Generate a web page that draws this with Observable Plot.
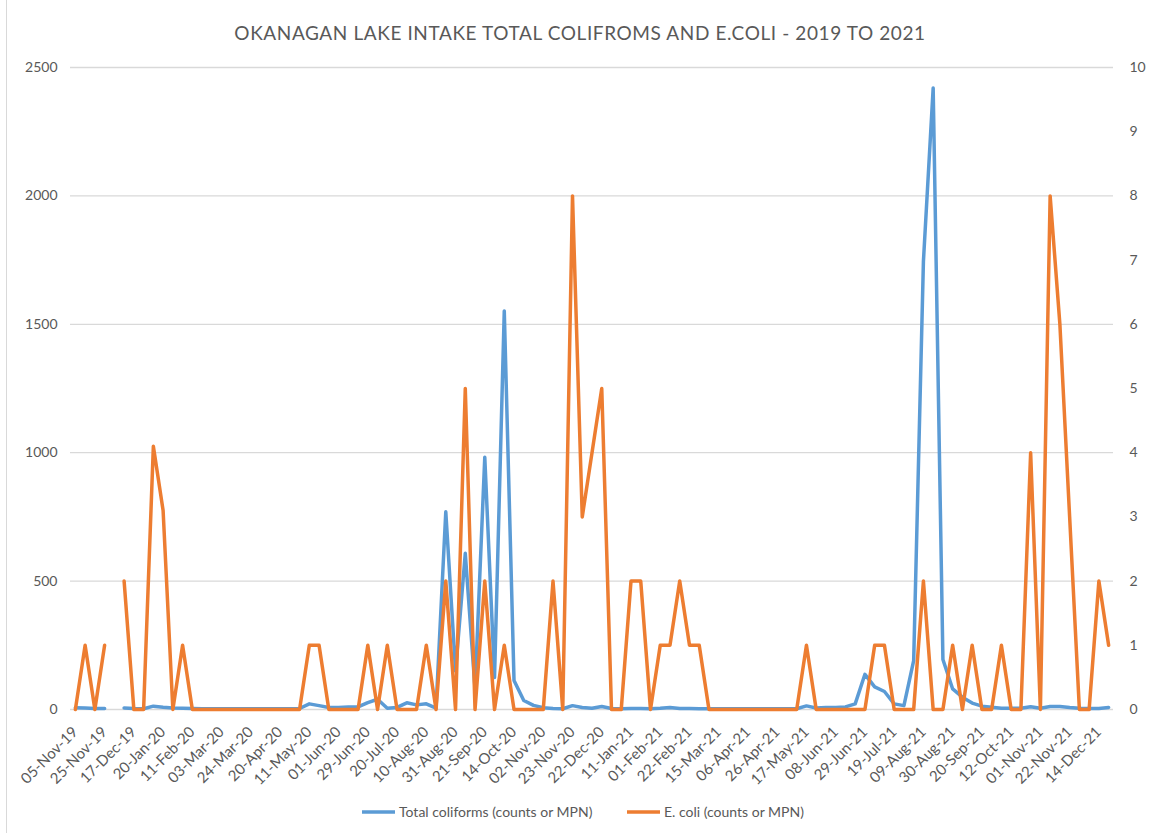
<!DOCTYPE html>
<html><head><meta charset="utf-8">
<script src="https://cdn.jsdelivr.net/npm/d3@7"></script>
<script src="https://cdn.jsdelivr.net/npm/@observablehq/plot@0.6"></script>
<style>
body{margin:0;background:#fff;}
#chart{position:relative;width:1151px;height:833px;}
</style></head><body><div id="chart"></div>
<script>
// Category tick labels (every third sample is labelled)
const tickLabels = ["05-Nov-19","25-Nov-19","17-Dec-19","20-Jan-20","11-Feb-20","03-Mar-20","24-Mar-20","20-Apr-20","11-May-20","01-Jun-20","29-Jun-20","20-Jul-20","10-Aug-20","31-Aug-20","21-Sep-20","14-Oct-20","02-Nov-20","23-Nov-20","22-Dec-20","11-Jan-21","01-Feb-21","22-Feb-21","15-Mar-21","06-Apr-21","26-Apr-21","17-May-21","08-Jun-21","29-Jun-21","19-Jul-21","09-Aug-21","30-Aug-21","20-Sep-21","12-Oct-21","01-Nov-21","22-Nov-21","14-Dec-21"];

// Total coliforms (left axis)
const coliforms = [
  7, 6, 4, 4, null, 6, 4, 3, 13, 9,
  6, 5, 4, 3, 3, 3, 3, 3, 3, 3,
  3, 3, 3, 4, 22, 15, 8, 8, 10, 10,
  27, 40, 5, 8, 26, 18, 22, 5, 770, 150,
  608, 80, 982, 125, 1552, 113, 35, 16, 7, 4,
  3, 15, 8, 5, 12, 4, 3, 4, 4, 3,
  5, 8, 4, 4, 3, 3, 3, 3, 3, 3,
  3, 3, 3, 3, 3, 14, 6, 8, 8, 10,
  22, 137, 88, 70, 22, 15, 190, 1745, 2420, 195,
  80, 48, 25, 13, 9, 5, 5, 5, 11, 5,
  12, 12, 8, 5, 4, 4, 8
];

// E. coli (right axis)
const ecoli = [
  0, 1, 0, 1, null, 2, 0, 0, 4.1, 3.1,
  0, 1, 0, 0, 0, 0, 0, 0, 0, 0,
  0, 0, 0, 0, 1, 1, 0, 0, 0, 0,
  1, 0, 1, 0, 0, 0, 1, 0, 2, 0,
  5, 0, 2, 0, 1, 0, 0, 0, 0, 2,
  0, 8, 3, 4, 5, 0, 0, 2, 2, 0,
  1, 1, 2, 1, 1, 0, 0, 0, 0, 0,
  0, 0, 0, 0, 0, 1, 0, 0, 0, 0,
  0, 0, 1, 1, 0, 0, 0, 2, 0, 0,
  1, 0, 1, 0, 0, 1, 0, 0, 4, 0,
  8, 6, 3, 0, 0, 2, 1
];

const leftTicks = [0, 500, 1000, 1500, 2000, 2500];
const rightTicks = [0, 1, 2, 3, 4, 5, 6, 7, 8, 9, 10];
const ratio = 2500 / 10;

const n = coliforms.length;
const data = d3.range(n).map(i => ({
  i,
  tc: coliforms[i],
  ec: ecoli[i] == null ? null : ecoli[i] * ratio
}));

const font = "Lato, 'Open Sans', sans-serif";
const gray = "#595959";

const plot = Plot.plot({
  width: 1151, height: 833,
  marginLeft: 70, marginRight: 38, marginTop: 67, marginBottom: 124,
  style: {fontFamily: font, fontSize: "14px", color: gray, background: "white", overflow: "visible"},
  x: {type: "linear", domain: [-0.5, n - 0.5]},
  y: {domain: [0, 2500]},
  marks: [
    Plot.gridY(leftTicks, {stroke: "#d9d9d9", strokeOpacity: 1, strokeWidth: 1.3}),
    Plot.axisY({ticks: leftTicks, tickFormat: d => String(d), tickSize: 0, tickPadding: 13, label: null, fontSize: 14}),
    Plot.axisY({anchor: "right", ticks: rightTicks.map(d => d * ratio), tickFormat: d => String(d / ratio), tickSize: 0, tickPadding: 16, label: null, fontSize: 14}),
    Plot.axisX({ticks: d3.range(0, n, 3), tickFormat: i => tickLabels[i / 3], tickRotate: -45, tickSize: 0, tickPadding: 20, label: null, fontSize: 15}),
    Plot.line(data, {x: "i", y: "tc", stroke: "#5b9bd5", strokeWidth: 3.5, strokeLinejoin: "round"}),
    Plot.line(data, {x: "i", y: "ec", stroke: "#ed7d31", strokeWidth: 3.5, strokeLinejoin: "round"})
  ]
});

document.getElementById("chart").appendChild(plot);
const svg = d3.select(plot);

// left chart border
svg.append("line").attr("x1", 6.5).attr("x2", 6.5).attr("y1", 0).attr("y2", 833)
  .attr("stroke", "#d9d9d9").attr("stroke-width", 1);

// title
svg.append("text").attr("x", 580).attr("y", 40).attr("text-anchor", "middle")
  .attr("font-family", font).attr("font-size", 19).attr("fill", gray)
  .attr("letter-spacing", 0.6)
  .text("OKANAGAN LAKE INTAKE TOTAL COLIFROMS AND E.COLI - 2019 TO 2021");

// legend
const legend = [
  {label: "Total coliforms (counts or MPN)", color: "#5b9bd5", x: 362},
  {label: "E. coli (counts or MPN)", color: "#ed7d31", x: 627}
];
const lg = svg.append("g").attr("font-family", font).attr("font-size", 14).attr("fill", gray)
  .attr("text-anchor", "start");
legend.forEach(d => {
  lg.append("line").attr("x1", d.x).attr("x2", d.x + 33).attr("y1", 812).attr("y2", 812)
    .attr("stroke", d.color).attr("stroke-width", 3.5);
  lg.append("text").attr("x", d.x + 37).attr("y", 817).attr("text-anchor", "start").text(d.label);
});
</script></body></html>
